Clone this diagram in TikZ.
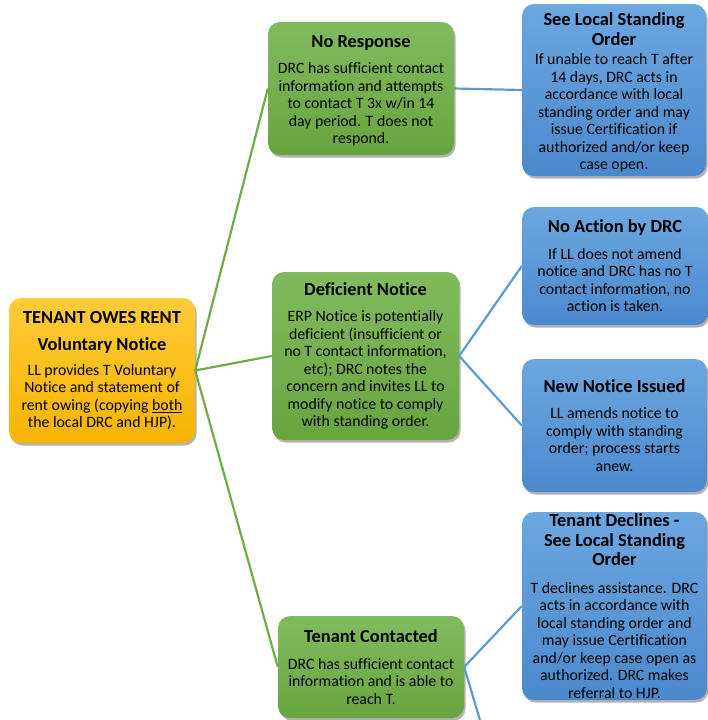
\documentclass[tikz,border=0pt]{standalone}
\usepackage{fontspec}
\setmainfont{Carlito}[Ligatures=NoCommon]
\usetikzlibrary{shadows}
\definecolor{gtop}{HTML}{80BC5E}
\definecolor{gbot}{HTML}{68A43E}
\definecolor{btop}{HTML}{6CA7E0}
\definecolor{bbot}{HTML}{4A89CC}
\definecolor{otop}{HTML}{FFCB3A}
\definecolor{obot}{HTML}{F6B400}
\definecolor{gline}{HTML}{70AD47}
\definecolor{bline}{HTML}{5B9BD5}
\newcommand\ttl[1]{{\fontsize{18.4}{20}\selectfont\bfseries #1}}
\tikzset{
  card/.style={rounded corners=12pt, minimum width=186pt, inner sep=0pt, align=center,
    font=\fontsize{15.8}{17.5}\selectfont,
    drop shadow={shadow xshift=1.5pt, shadow yshift=-2.5pt, opacity=0.3, fill=black}},
  greencard/.style={card, top color=gtop, bottom color=gbot},
  bluecard/.style={card, top color=btop, bottom color=bbot},
  orangecard/.style={card, top color=otop, bottom color=obot},
  gconn/.style={draw=gline, line width=2.2pt},
  bconn/.style={draw=bline, line width=2.2pt},
}
\begin{document}
\begin{tikzpicture}[x=1pt, y=-1pt]
\useasboundingbox (0,0) rectangle (708,720);
\clip (0,0) rectangle (708,720);

\node[orangecard, minimum height=145pt] (rent) at (102,370.5)
  {\ttl{TENANT OWES RENT}\\[10pt]\ttl{Voluntary Notice}\\[7pt]
   LL provides T Voluntary\\Notice and statement of\\rent owing (copying \underline{both}\\the local DRC and HJP).};

\node[greencard, minimum height=133pt] (noresp) at (361,88.5)
  {\rule{0pt}{16.5pt}\ttl{No Response}\\[9pt]
   DRC has sufficient contact\\information and attempts\\to contact T 3x w/in 14\\day period. T does not\\respond.};

\node[greencard, minimum height=168pt, minimum width=187pt] (defic) at (365.5,356)
  {\ttl{Deficient Notice}\\[9pt]
   ERP Notice is potentially\\deficient (insufficient or\\no T contact information,\\etc); DRC notes the\\concern and invites LL to\\modify notice to comply\\with standing order.};

\node[greencard, minimum height=102pt] (contact) at (371,667)
  {\ttl{Tenant Contacted}\\[9pt]
   DRC has sufficient contact\\information and is able to\\reach T.};

\node[bluecard, minimum height=172pt, minimum width=184pt] (seelocal) at (614,90)
  {\rule{0pt}{17.5pt}\ttl{See Local Standing}\\[2.5pt]\ttl{Order}\\[2pt]
   If unable to reach T after\\14 days, DRC acts in\\accordance with local\\standing order and may\\issue Certification if\\authorized and/or keep\\case open.};

\node[bluecard, minimum height=118pt] (noaction) at (615,266)
  {\ttl{No Action by DRC}\\[9pt]
   If LL does not amend\\notice and DRC has no T\\contact information, no\\action is taken.};

\node[bluecard, minimum height=133pt, minimum width=185pt] (newnotice) at (614.5,425.5)
  {\ttl{New Notice Issued}\\[9pt]
   LL amends notice to\\comply with standing\\order; process starts\\anew.};

\node[bluecard, minimum height=188pt, minimum width=185pt] (declines) at (614.5,606)
  {\ttl{Tenant Declines -}\\[2pt]\ttl{See Local Standing}\\[2pt]\ttl{Order}\\[10pt]
   T declines assistance. DRC\\acts in accordance with\\local standing order and\\may issue Certification\\and/or keep case open as\\authorized. DRC makes\\referral to HJP.};

\coordinate (below) at (522,862);

\draw[gconn] (rent.east) -- (noresp.west);
\draw[gconn] (rent.east) -- (defic.west);
\draw[gconn] (rent.east) -- (contact.west);
\draw[bconn] (noresp.east) -- (seelocal.west);
\draw[bconn] (defic.east) -- (noaction.west);
\draw[bconn] (defic.east) -- (newnotice.west);
\draw[bconn] (contact.east) -- (declines.west);
\draw[bconn] (contact.east) -- (below);
\end{tikzpicture}
\end{document}
